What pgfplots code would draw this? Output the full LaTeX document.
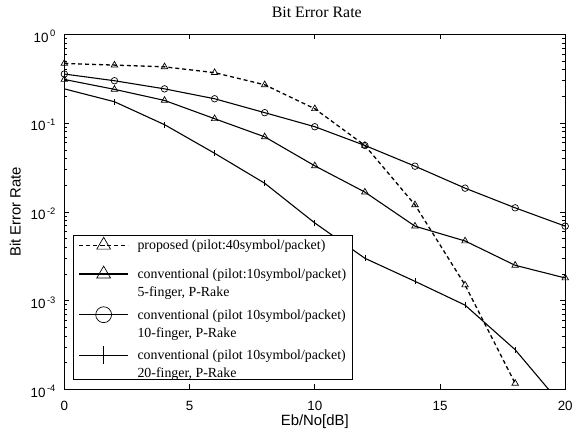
\documentclass[border=0pt]{standalone}
\usepackage{pgfplots}
\pgfplotsset{compat=1.18}
\usepackage{fontspec}
\setmainfont{Liberation Serif}
\setsansfont{Liberation Sans}

% legend entries: marker drawn large on a long line, shifted up to the first text line
\newcommand{\legline}[1]{%
  \draw[mark repeat=2,mark phase=2,yshift=4.5pt,mark size=#1]
    plot coordinates {(0pt,0pt) (24.5pt,0pt) (49pt,0pt)};}

\begin{document}
\begin{tikzpicture}
\begin{axis}[
  scale only axis,
  width=505pt, height=358pt,
  xmin=0, xmax=20,
  ymode=log, ymin=1e-4, ymax=1,
  xtick={0,5,10,15,20},
  ytick={1e-4,1e-3,1e-2,1e-1,1},
  yticklabels={10\textsuperscript{\,-4},10\textsuperscript{\,-3},10\textsuperscript{\,-2},10\textsuperscript{\,-1},10\textsuperscript{\,0}},
  tick label style={font=\sffamily\fontsize{13.5}{15}\selectfont},
  xticklabel style={/pgf/number format/assume math mode=true, anchor=base, yshift=-21pt},
  yticklabel style={anchor=east, xshift=-5pt, yshift=-2pt},
  tick align=inside,
  major tick length=5pt, minor tick length=3pt,
  every tick/.style={black, line width=0.6pt},
  axis line style={line width=1pt},
  title={Bit Error Rate},
  title style={font=\fontsize{16}{18}\selectfont, at={(axis description cs:0.5,1)}, anchor=base, yshift=11pt, xshift=2pt, inner sep=7pt},
  xlabel={Eb/No[dB]},
  xlabel style={font=\sffamily\fontsize{15}{18}\selectfont, at={(axis description cs:0.5,0)}, anchor=base, yshift=-36pt},
  ylabel={Bit Error Rate},
  ylabel style={font=\sffamily\fontsize{15}{18}\selectfont, at={(axis description cs:0,0.5)}, anchor=base, yshift=44pt, inner sep=10pt},
  legend style={
    at={(axis description cs:0.018,0.028)}, anchor=south west,
    draw=black, line width=0.8pt, fill=white,
    inner xsep=5pt, inner ysep=1pt,
    font=\fontsize{14}{18}\selectfont,
    cells={anchor=base west},
    nodes={inner sep=1pt, text depth=},
    row sep=3pt,
  },
]

% proposed scheme, 40 pilot symbols per packet
\addplot[black, line width=1.3pt, dash pattern=on 4pt off 3pt,
  mark=triangle, mark size=3.8pt, mark options={solid, line width=0.7pt},
  legend image code/.code={\legline{8pt}}]
  coordinates {
    (0,0.47) (2,0.45) (4,0.43) (6,0.37) (8,0.27) (10,0.145)
    (12,0.056) (14,0.012) (16,0.0015) (18,1.17e-4)
  };
\addlegendentry{\hspace*{8pt}\begin{tabular}[t]{@{}l@{}}proposed (pilot:40symbol/packet)\rule[-11.5pt]{0pt}{0pt}\end{tabular}}

% conventional, 5 fingers
\addplot[black, line width=1.1pt,
  mark=triangle, mark size=3.8pt, mark options={line width=0.7pt},
  legend image code/.code={\legline{8pt}}]
  coordinates {
    (0,0.31) (2,0.24) (4,0.18) (6,0.112) (8,0.07) (10,0.033)
    (12,0.0167) (14,0.0069) (16,0.0047) (18,0.0025) (20,0.0018)
  };
\addlegendentry{\hspace*{8pt}\begin{tabular}[t]{@{}l@{}}conventional (pilot:10symbol/packet)\\5-finger, P-Rake\end{tabular}}

% conventional, 10 fingers
\addplot[black, line width=1.1pt,
  mark=o, mark size=3.3pt, mark options={line width=0.7pt},
  legend image code/.code={\legline{8pt}}]
  coordinates {
    (0,0.357) (2,0.30) (4,0.243) (6,0.188) (8,0.131) (10,0.091)
    (12,0.056) (14,0.0327) (16,0.0185) (18,0.0111) (20,0.0069)
  };
\addlegendentry{\hspace*{8pt}\begin{tabular}[t]{@{}l@{}}conventional (pilot 10symbol/packet)\\10-finger, P-Rake\end{tabular}}

% conventional, 20 fingers
\addplot[black, line width=1.1pt,
  mark=|, mark size=3pt, mark options={line width=0.7pt},
  legend image code/.code={\legline{9pt}}]
  coordinates {
    (0,0.243) (2,0.174) (4,0.096) (6,0.0457) (8,0.021) (10,0.0075)
    (12,0.003) (14,0.00165) (16,0.00089) (18,0.00028) (20,6e-5)
  };
\addlegendentry{\hspace*{8pt}\begin{tabular}[t]{@{}l@{}}conventional (pilot 10symbol/packet)\\20-finger, P-Rake\\[-6pt]\end{tabular}}

\end{axis}
\end{tikzpicture}
\end{document}
